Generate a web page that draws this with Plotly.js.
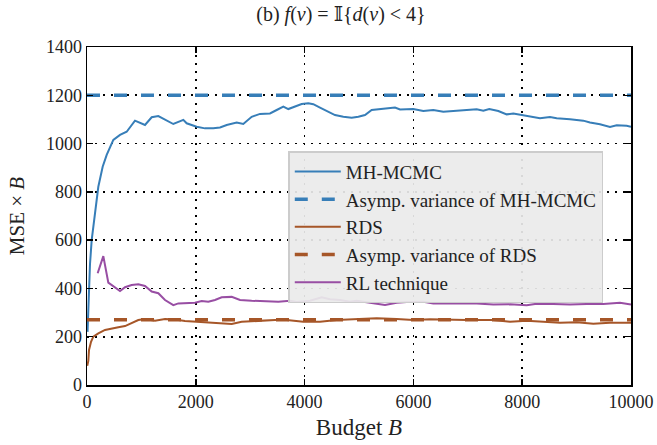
<!DOCTYPE html>
<html>
<head>
<meta charset="utf-8">
<script src="https://cdn.plot.ly/plotly-3.0.1.min.js"></script>
<style>html,body{margin:0;padding:0;background:#fff;}#chart{width:657px;height:445px;}</style>
</head>
<body>
<div id="chart"></div>
<script>
// ---- Data ----
const budgetRange = [0, 10000];

const mhBudget = [10,30,55,86,116,147,208,288,362,484,607,729,882,1066,1189,1311,1587,1771,1832,2016,2169,2322,2445,2568,2752,2873,3027,3180,3364,3487,3609,3701,3824,3946,4068,4160,4283,4436,4559,4712,4865,4988,5110,5233,5386,5509,5662,5754,5998,6182,6366,6550,6734,6857,7040,7163,7285,7395,7561,7715,7837,7991,8143,8327,8511,8634,8879,9123,9246,9430,9614,9737,9921,10000];
const mhMSE = [220,380,500,600,650,711,821,904,953,1015,1036,1049,1095,1077,1109,1114,1081,1098,1084,1070,1063,1063,1067,1077,1087,1081,1111,1123,1125,1139,1153,1143,1153,1164,1167,1163,1149,1132,1118,1111,1107,1111,1118,1139,1142,1143,1149,1141,1143,1135,1139,1132,1135,1139,1139,1142,1136,1143,1135,1121,1124,1118,1114,1105,1110,1105,1101,1095,1087,1080,1069,1076,1074,1069];
const mhAsymptotic = 1200;

const rdsBudget = [5,24,37,74,116,208,331,454,576,699,821,943,1066,1250,1434,1618,1801,1985,2230,2476,2660,2843,3088,3272,3456,3671,3977,4283,4590,4896,5325,5693,5998,6305,6673,6980,7163,7469,7776,8082,8388,8695,9001,9307,9614,9921,10000];
const rdsMSE = [80,100,145,179,200,214,228,235,239,244,258,269,273,266,273,271,265,262,260,256,253,262,266,266,269,269,262,262,269,272,276,273,269,272,269,269,269,269,262,266,262,258,260,254,258,260,258];
const rdsAsymptotic = 270;

const rlBudget = [196,300,392,484,607,699,821,943,1066,1189,1311,1434,1587,1679,1985,2108,2230,2353,2476,2660,2813,3027,3272,3517,3732,3855,4099,4314,4467,4651,4835,4957,5202,5478,5693,5877,6182,6366,6673,6980,7163,7469,7776,8082,8266,8572,8879,9185,9491,9798,10000];
const rlMSE = [463,534,424,410,389,405,414,417,410,387,380,352,331,338,341,348,345,352,363,365,352,349,347,345,349,344,349,363,355,352,345,349,341,331,341,344,345,338,338,338,338,333,334,330,337,335,333,335,335,341,333];

const seriesNames = ["MH-MCMC", "Asymp. variance of MH-MCMC", "RDS", "Asymp. variance of RDS", "RL technique"];
const xTicks = [0, 2000, 4000, 6000, 8000, 10000];
const yTicks = [0, 200, 400, 600, 800, 1000, 1200, 1400];

// ---- Styling ----
const BLUE = "#377eb8", BROWN = "#a65628", PURPLE = "#984ea3";
const SERIF = "'Liberation Serif', 'DejaVu Serif', serif";

const traces = [
  {x: mhBudget, y: mhMSE, name: seriesNames[0], mode: "lines",
   line: {color: BLUE, width: 2}},
  {x: budgetRange, y: [mhAsymptotic, mhAsymptotic], name: seriesNames[1], mode: "lines",
   line: {color: BLUE, width: 3.5, dash: "13px,14px"}},
  {x: rdsBudget, y: rdsMSE, name: seriesNames[2], mode: "lines",
   line: {color: BROWN, width: 2}},
  {x: budgetRange, y: [rdsAsymptotic, rdsAsymptotic], name: seriesNames[3], mode: "lines",
   line: {color: BROWN, width: 3.5, dash: "13px,14px"}},
  {x: rlBudget, y: rlMSE, name: seriesNames[4], mode: "lines",
   line: {color: PURPLE, width: 2}}
];

const axisCommon = {
  showline: true, linecolor: "#000", linewidth: 1.5, mirror: "allticks",
  ticks: "inside", ticklen: 6, tickwidth: 1.5, tickcolor: "#000",
  showgrid: true, gridcolor: "#000", gridwidth: 1.6, griddash: "2px,6px",
  zeroline: false, tickfont: {family: SERIF, size: 18, color: "#222"}
};

const layout = {
  width: 657, height: 445,
  margin: {l: 87, r: 26, t: 47, b: 60},
  paper_bgcolor: "#fff", plot_bgcolor: "#fff",
  showlegend: true,
  title: {text: "(b) <i>f</i>(<i>v</i>) = 𝕀{<i>d</i>(<i>v</i>) &lt; 4}",
          font: {family: SERIF, size: 20, color: "#222"},
          x: 0.519, xref: "container", xanchor: "center", y: 0.968, yref: "container", yanchor: "middle"},
  xaxis: Object.assign({}, axisCommon, {
    range: budgetRange, tickvals: xTicks, ticktext: xTicks.map(String),
    title: {text: "Budget <i>B</i>", font: {family: SERIF, size: 23, color: "#222"}, standoff: 8}
  }),
  yaxis: Object.assign({}, axisCommon, {
    range: [0, 1400], tickvals: yTicks, ticktext: yTicks.map(String),
    title: {text: "MSE × <i>B</i>", font: {family: SERIF, size: 21, color: "#222"}, standoff: 15}
  }),
  legend: {
    x: 0.37, y: 0.692, xanchor: "left", yanchor: "top",
    bgcolor: "rgba(234,234,234,0.92)", bordercolor: "#cccccc", borderwidth: 1.5,
    font: {family: SERIF, size: 19, color: "#222"},
    itemwidth: 46, traceorder: "normal"
  }
};

Plotly.newPlot("chart", traces, layout, {staticPlot: true, displayModeBar: false});
</script>
</body>
</html>
